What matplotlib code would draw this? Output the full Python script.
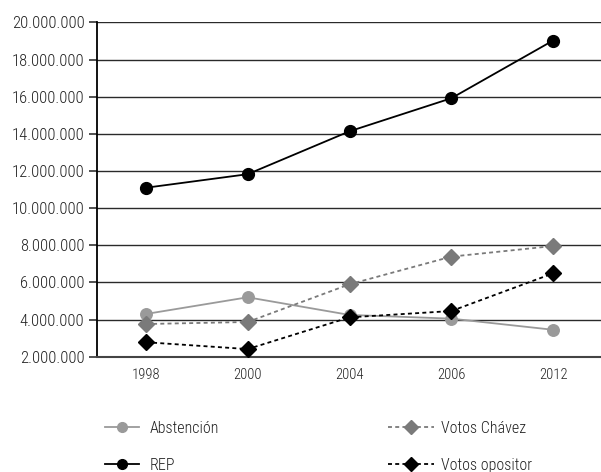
import matplotlib
matplotlib.use("Agg")
import matplotlib.pyplot as plt
from matplotlib.ticker import FuncFormatter
from matplotlib.lines import Line2D

years = ["1998", "2000", "2004", "2006", "2012"]
abstencion = [4300000, 5200000, 4250000, 4050000, 3450000]
rep = [11100000, 11830000, 14140000, 15920000, 19030000]
votos_chavez = [3760000, 3870000, 5900000, 7390000, 7960000]
votos_opositor = [2780000, 2410000, 4120000, 4460000, 6490000]
yticks = [2000000 * i for i in range(1, 11)]

plt.rcParams['font.family'] = ['Roboto Condensed', 'DejaVu Sans']
plt.rcParams['font.weight'] = 300

fig = plt.figure(figsize=(6.01, 4.72), dpi=100)
ax = fig.add_axes([97/601, 1 - 356.7/472, 1 - 97/601, (356.7 - 22.5)/472])

x = list(range(len(years)))
c_abs = "#9a9a9a"
c_chav = "#7a7a7a"
lw = 1.3
dash = (0, (2.2, 1.8))
ax.plot(x, abstencion, color=c_abs, lw=lw, marker="o", ms=8.3, zorder=3)
ax.plot(x, rep, color="black", lw=lw, marker="o", ms=8.5, zorder=4)
ax.plot(x, votos_chavez, color=c_chav, lw=lw, ls=dash, marker="D", ms=8, zorder=3)
ax.plot(x, votos_opositor, color="black", lw=lw, ls=dash, marker="D", ms=8, zorder=5)

ax.set_xlim(-0.48, 4.47)
ax.set_ylim(2000000, 20000000)
ax.set_yticks(yticks)
ax.yaxis.set_major_formatter(FuncFormatter(lambda v, p: f"{int(v):,}".replace(",", ".")))
ax.set_xticks(x)
ax.set_xticklabels(years)
ax.tick_params(axis="x", length=0, pad=8, labelsize=10.5, colors="#222222")
ax.tick_params(axis="y", length=6, width=1.1, direction="out", pad=3, labelsize=12, colors="#222222")
ax.grid(axis="y", color="#2a2a2a", lw=1.0)
ax.set_axisbelow(True)
for s in ["top", "right"]:
    ax.spines[s].set_visible(False)
ax.spines["left"].set_linewidth(1.3)
ax.spines["bottom"].set_linewidth(1.5)
ax.spines["bottom"].set_color("#444444")

h_abs = Line2D([], [], color=c_abs, lw=lw, marker="o", ms=7)
h_rep = Line2D([], [], color="black", lw=lw, marker="o", ms=7)
h_chav = Line2D([], [], color=c_chav, lw=lw, ls=dash, marker="D", ms=7)
h_opo = Line2D([], [], color="black", lw=lw, ls=dash, marker="D", ms=7)

kw = dict(frameon=False, fontsize=11.5, labelspacing=1.35, borderpad=0,
          loc="upper left", borderaxespad=0, labelcolor="#222222")
fig.legend([h_abs, h_rep], ["Abstención", "REP"], bbox_to_anchor=(105/601, 1 - 421/472),
           handlelength=2.1, handletextpad=0.7, **kw)
fig.legend([h_chav, h_opo], ["Votos Chávez", "Votos opositor"], bbox_to_anchor=(388/601, 1 - 421/472),
           handlelength=2.9, handletextpad=0.4, **kw)

fig.savefig("out.png", dpi=100)
